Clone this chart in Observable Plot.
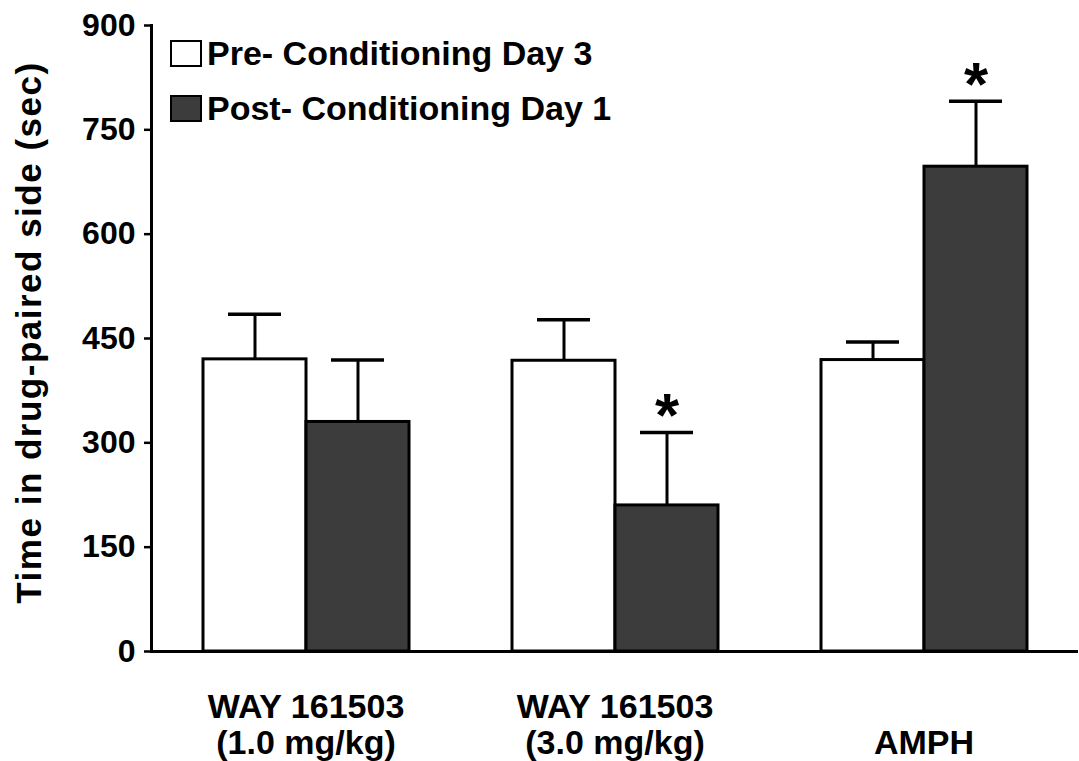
<!DOCTYPE html>
<html>
<head>
<meta charset="utf-8">
<script src="https://cdn.jsdelivr.net/npm/d3@7"></script>
<script src="https://cdn.jsdelivr.net/npm/@observablehq/plot@0.6"></script>
<style>
  html, body { margin: 0; padding: 0; background: #fff; }
  #wrap { position: relative; width: 1079px; height: 761px; font-family: "Liberation Sans", Arial, sans-serif; font-weight: bold; }
  #legend { position: absolute; left: 170px; top: 34px; }
  .item { display: flex; align-items: center; height: 39px; margin-bottom: 16px; font-size: 34px; line-height: 39px; color: #000; white-space: nowrap; }
  .box { width: 32px; height: 27px; box-sizing: border-box; border: 2.5px solid #000; margin-right: 5px; }
</style>
</head>
<body>
<div id="wrap"><div id="legend"></div></div>
<script>
// ---- data ----
const groupLine1 = ["WAY 161503", "WAY 161503", ""];
const groupLine2 = ["(1.0 mg/kg)", "(3.0 mg/kg)", "AMPH"];
const series = ["Pre- Conditioning Day 3", "Post- Conditioning Day 1"];
const preMean = [420, 418, 419];
const preSem = [65, 59, 26];
const postMean = [330, 210, 697];
const postSem = [89, 105, 94];
const preSig = [false, false, false];
const postSig = [false, true, true];
const yTicks = [0, 150, 300, 450, 600, 750, 900];
const yLabel = "Time in drug-paired side (sec)";
const seriesColors = ["#ffffff", "#3c3c3c"];

// ---- table ----
const groups = groupLine2;
const rows = [];
groups.forEach((g, i) => {
  rows.push({group: g, series: series[0], mean: preMean[i], sem: preSem[i], sig: preSig[i]});
  rows.push({group: g, series: series[1], mean: postMean[i], sem: postSem[i], sig: postSig[i]});
});
const errTop = d => d.mean + d.sem;

const chart = Plot.plot({
  width: 1079,
  height: 761,
  marginLeft: 150,
  marginRight: 0,
  marginTop: 25,
  marginBottom: 110,
  style: {fontFamily: "'Liberation Sans', Arial, sans-serif", fontWeight: "bold", background: "white", color: "black"},
  fx: {domain: groups, padding: 0, label: null},
  x: {domain: series, paddingInner: 0, paddingOuter: 0.5, axis: null},
  y: {domain: [0, 900], label: null},
  color: {domain: series, range: seriesColors},
  marks: [
    Plot.barY(rows, {fx: "group", x: "series", y: "mean", fill: "series", stroke: "black", strokeWidth: 3}),
    Plot.ruleX(rows, {fx: "group", x: "series", y1: "mean", y2: errTop, stroke: "black", strokeWidth: 3}),
    Plot.tickY(rows, {fx: "group", x: "series", y: errTop, stroke: "black", strokeWidth: 3.5, insetLeft: 25, insetRight: 25}),
    Plot.text(rows.filter(d => d.sig), {fx: "group", x: "series", y: errTop, text: () => "*", fontSize: 62, fontWeight: "bold", lineAnchor: "bottom", dy: 4, fill: "black"}),
    Plot.ruleY([0], {stroke: "black", strokeWidth: 3}),
    Plot.frame({anchor: "left", facetAnchor: "left", stroke: "black", strokeWidth: 3}),
    Plot.axisY({ticks: yTicks, tickSize: 7, tickPadding: 9, fontSize: 32, strokeWidth: 2.5, label: null}),
    Plot.axisFx({anchor: "bottom", tickSize: 0, tickPadding: 41, fontSize: 34, lineHeight: 1.06, label: null,
      tickFormat: d => groupLine1[groups.indexOf(d)] + "\n" + d}),
    Plot.text([{group: groups[0]}], {fx: "group", frameAnchor: "left", text: () => yLabel, rotate: -90, fontSize: 35, fontWeight: "bold", lineAnchor: "middle", textAnchor: "middle", dx: -122, dy: -6, fill: "black"})
  ]
});

// widen the rotated axis title a little, as in the original
d3.select(chart).selectAll("text")
  .filter(function() { return this.textContent === yLabel; })
  .attr("letter-spacing", "1.5px");

const wrap = document.getElementById("wrap");
wrap.insertBefore(chart, wrap.firstChild);

// legend built from the color scale
const legend = document.getElementById("legend");
const colorScale = chart.scale("color");
series.forEach(s => {
  const item = document.createElement("div");
  item.className = "item";
  const box = document.createElement("div");
  box.className = "box";
  box.style.background = colorScale.range[colorScale.domain.indexOf(s)];
  item.appendChild(box);
  const label = document.createElement("span");
  label.textContent = s;
  item.appendChild(label);
  legend.appendChild(item);
});
</script>
</body>
</html>
